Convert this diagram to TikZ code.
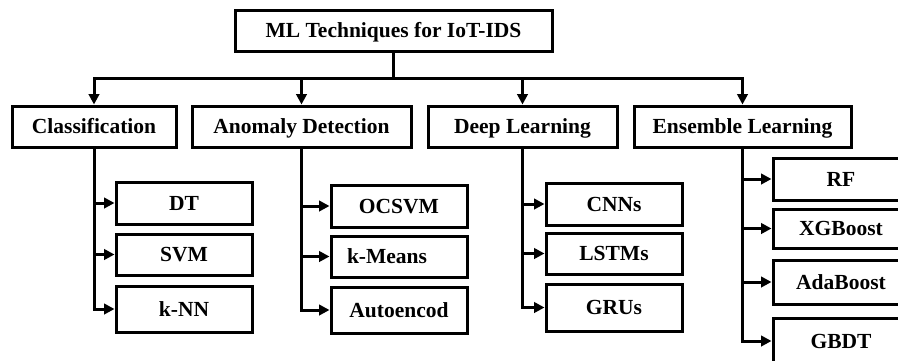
\documentclass[tikz,border=0pt]{standalone}
\usepackage{fontspec}
\setmainfont{Liberation Serif}
\usetikzlibrary{arrows.meta}
\tikzset{
  box/.style={draw, rectangle, line width=3pt, fill=white, inner sep=0pt,
    font=\fontsize{21.5}{24}\selectfont\bfseries, minimum height=41pt,
    text height=14.2pt, text depth=0pt},
  sub/.style={box, minimum width=136pt},
  arr/.style={line width=3pt, -{Triangle[length=10.5pt,width=10.5pt]}},
  ln/.style={line width=3pt},
}
\begin{document}
\begin{tikzpicture}[x=1pt,y=-1pt]
\useasboundingbox (0,0) rectangle (898,360);
\clip (0,0) rectangle (898,360);
\fill[white] (0,0) rectangle (898,360);
% root and level 1
\node[box, minimum width=317pt] (root) at (393.5,30.5) {ML Techniques for IoT-IDS};
\node[box, minimum width=164pt] (cls) at (94,126.5) {Classification};
\node[box, minimum width=219pt] (ad) at (301.5,126.5) {Anomaly Detection};
\node[box, minimum width=189pt] (dl) at (522.5,126.5) {Deep Learning};
\node[box, minimum width=217pt] (el) at (742.5,126.5) {Ensemble Learning};
% level 2
\node[sub, minimum height=42pt] (dt) at (184,203) {DT};
\node[sub] (svm) at (184,254.5) {SVM};
\node[sub, minimum height=46pt] (knn) at (184,309) {k-NN};
\node[sub, minimum height=42pt] (ocsvm) at (399,206) {OCSVM};
\node[sub, text width=104pt, inner xsep=16pt, align=left] (kmeans) at (399,256.5) {k-Means};
\node[sub, minimum height=46pt] (auto) at (399,310) {Autoencod};
\node[sub, minimum height=42pt] (cnn) at (614,204) {CNNs};
\node[sub] (lstm) at (614,253.5) {LSTMs};
\node[sub, minimum height=47pt] (gru) at (614,307.5) {GRUs};
\node[sub, minimum height=42pt] (rf) at (841,179) {RF};
\node[sub, minimum height=39pt] (xgb) at (841,228.5) {XGBoost};
\node[sub, minimum height=44pt] (ada) at (841,282) {AdaBoost};
\node[sub, minimum height=46pt] (gbdt) at (841,341) {GBDT};
% root connectors
\coordinate (bus) at (root.south |- 0,78);
\draw[ln] (root.south) -- (bus);
\draw[arr] (bus) -| (cls.north);
\draw[arr] (bus) -| (ad.north);
\draw[arr] (bus) -| (dl.north);
\draw[arr] (bus) -| (el.north);
% children connectors
\foreach \p/\c in {cls/dt, cls/svm, cls/knn, ad/ocsvm, ad/kmeans, ad/auto, dl/cnn, dl/lstm, dl/gru, el/rf, el/xgb, el/ada, el/gbdt}
  \draw[arr] (\p.south) |- (\c.west);
\end{tikzpicture}
\end{document}
